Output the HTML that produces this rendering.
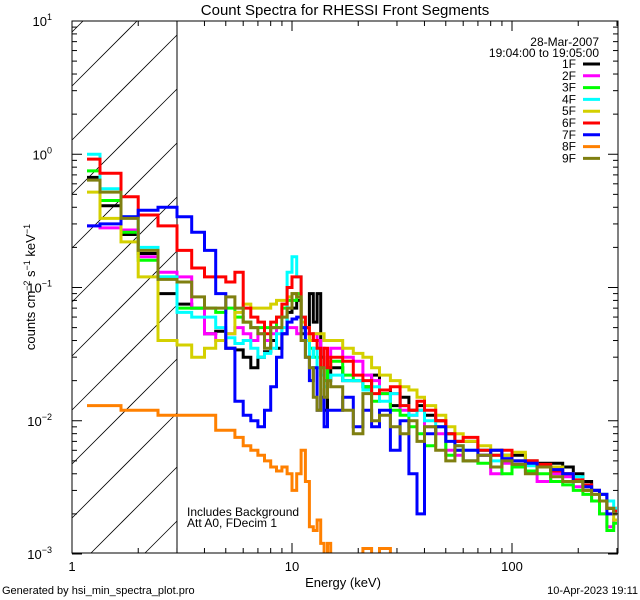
<!DOCTYPE html>
<html><head><meta charset="utf-8"><style>
html,body{margin:0;padding:0;background:#fff;width:640px;height:600px;overflow:hidden;}
svg{display:block;font-family:"Liberation Sans",sans-serif;}
</style></head><body>
<svg id="chart" width="640" height="600" viewBox="0 0 640 600" xmlns="http://www.w3.org/2000/svg">
<defs><clipPath id="plotclip"><rect x="72" y="21" width="546" height="532"/></clipPath></defs>
<rect width="640" height="600" fill="#fff"/>
<text x="345" y="15" font-size="15" text-anchor="middle">Count Spectra for RHESSI Front Segments</text>
<g id="hatch"></g>
<line x1="177" y1="21" x2="177" y2="553" stroke="#000" stroke-width="1"/>
<g id="series" clip-path="url(#plotclip)"></g>
<rect x="72" y="21" width="546" height="532" fill="none" stroke="#000" stroke-width="1"/>
<g id="axes"></g>
<text x="343" y="587" font-size="13" text-anchor="middle">Energy (keV)</text>
<text transform="translate(35,287) rotate(-90)" font-size="13" text-anchor="middle">counts cm<tspan dy="-5" font-size="9">−2</tspan><tspan dy="5"> s</tspan><tspan dy="-5" font-size="9">−1</tspan><tspan dy="5"> keV</tspan><tspan dy="-5" font-size="9">−1</tspan></text>
<text x="187" y="516" font-size="12">Includes Background</text>
<text x="187" y="527" font-size="12">Att A0, FDecim 1</text>
<text x="599" y="46" font-size="12" text-anchor="end">28-Mar-2007</text>
<text x="599" y="57" font-size="12" text-anchor="end">19:04:00 to 19:05:00</text>
<g id="legend"></g>
<text x="2" y="594" font-size="11">Generated by hsi_min_spectra_plot.pro</text>
<text x="638" y="594" font-size="11" text-anchor="end">10-Apr-2023 19:11</text>
</svg>
<script>
const edges=[1.17,1.34,1.67,2.0,2.46,3.0,3.5,4,4.5,5,5.5,6,6.5,7,7.5,8,8.5,9,9.5,10,10.5,11,11.5,12,12.5,13,13.5,14,14.5,15,17,19,21,23,25,28,31,34,37,40,45,50,55,60,70,80,90,100,115,130,150,170,190,210,230,250,270,290,300];
const labels=["1F","2F","3F","4F","5F","6F","7F","8F","9F"];
const colors=["#000000","#ff00ff","#00ff00","#00ffff","#d4d000","#ff0000","#0000ff","#ff8000","#7f7f10"];
const s1F=[0.67,0.41,0.25,0.18,0.09, 0.075,0.07,0.045,0.047,0.035,0.034,0.03,0.025,0.03,0.033,0.04,0.035,0.045,0.065,0.07,0.08,0.045,0.05,0.09,0.055,0.09,0.03,0.012,0.02, 0.025,0.02,0.02,0.018,0.022,0.017,0.013,0.015,0.012,0.013,0.011,0.01,0.008,0.007,0.007,0.006,0.006,0.0055,0.0055,0.005,0.0048,0.0048,0.0045,0.004,0.0035,0.003,0.0028,0.0022,0.0022];
const s2F=[0.29,0.28,0.27,0.17,0.13, 0.12,0.07,0.045,0.04,0.045,0.05,0.045,0.04,0.045,0.04,0.045,0.05,0.045,0.05,0.05,0.045,0.05,0.045,0.04,0.045,0.04,0.035,0.025,0.03, 0.035,0.03,0.028,0.022,0.02,0.016,0.016,0.012,0.011,0.012,0.009,0.008,0.006,0.0055,0.005,0.0055,0.004,0.0048,0.0045,0.005,0.0035,0.004,0.0038,0.0032,0.003,0.0025,0.002,0.0016,0.0018];
const s3F=[0.75,0.45,0.26,0.16,0.12, 0.07,0.07,0.07,0.065,0.07,0.06,0.055,0.05,0.05,0.05,0.05,0.06,0.07,0.08,0.08,0.09,0.05,0.04,0.035,0.03,0.03,0.025,0.02,0.025, 0.028,0.022,0.02,0.018,0.014,0.016,0.012,0.011,0.009,0.008,0.0065,0.009,0.0055,0.006,0.005,0.0048,0.0055,0.004,0.0045,0.0042,0.004,0.0035,0.0033,0.003,0.0028,0.0025,0.002,0.0015,0.0017];
const s4F=[1.0,0.55,0.34,0.2,0.12, 0.065,0.06,0.06,0.05,0.042,0.038,0.04,0.035,0.03,0.032,0.035,0.045,0.05,0.13,0.17,0.12,0.06,0.04,0.03,0.035,0.025,0.022,0.018,0.02, 0.022,0.02,0.02,0.017,0.018,0.014,0.016,0.013,0.011,0.012,0.01,0.009,0.008,0.0065,0.006,0.006,0.005,0.0055,0.005,0.0046,0.0045,0.0045,0.004,0.0038,0.0033,0.003,0.0028,0.0025,0.0022];
const s5F=[0.52,0.33,0.22,0.12,0.04, 0.037,0.03,0.035,0.04,0.045,0.065,0.075,0.07,0.07,0.07,0.075,0.08,0.08,0.085,0.09,0.085,0.055,0.05,0.04,0.045,0.045,0.045,0.04,0.04, 0.04,0.035,0.032,0.03,0.025,0.022,0.02,0.018,0.017,0.015,0.013,0.011,0.009,0.008,0.007,0.0065,0.006,0.0055,0.0058,0.005,0.0045,0.0045,0.004,0.0035,0.003,0.0028,0.0025,0.002,0.0018];
const s6F=[0.92,0.72,0.48,0.35,0.29, 0.19,0.14,0.12,0.12,0.11,0.13,0.07,0.06,0.055,0.045,0.055,0.06,0.075,0.1,0.12,0.12,0.06,0.05,0.045,0.04,0.035,0.025,0.035,0.025, 0.03,0.028,0.022,0.02,0.016,0.017,0.018,0.013,0.012,0.014,0.012,0.01,0.008,0.007,0.0075,0.006,0.0055,0.006,0.005,0.005,0.0047,0.0042,0.004,0.0036,0.0033,0.003,0.0025,0.0022,0.0021];
const s7F=[0.29,0.3,0.34,0.38,0.4, 0.34,0.26,0.19,0.09,0.035,0.014,0.011,0.01,0.009,0.012,0.018,0.03,0.045,0.055,0.058,0.06,0.05,0.03,0.02,0.025,0.012,0.015,0.009,0.012, 0.012,0.015,0.009,0.012,0.009,0.012,0.006,0.01,0.004,0.002,0.008,0.009,0.007,0.006,0.006,0.0055,0.006,0.0052,0.005,0.0048,0.0045,0.0043,0.004,0.0035,0.0032,0.003,0.0028,0.002,0.002];
const s8F=[0.013,0.013,0.012,0.012,0.011, 0.011,0.011,0.011,0.0085,0.0085,0.0075,0.0065,0.006,0.0055,0.005,0.0045,0.0042,0.0045,0.004,0.003,0.004,0.006,0.0035,0.0016,0.0015,0.0018,0.0012,0.0009,0.0012, 0.0009,0.0005,0.0008,0.0011,0.0005,0.0011,0.0005,0.0009,0.0005,0.0005,0.0005,0.0005,0.0005,0.0005,0.0005,0.0005,0.0005,0.0005,0.0005,0.0005,0.0005,0.0005,0.0005,0.0005,0.0005,0.0005,0.0005,0.0005,0.0005];
const s9F=[0.64,0.52,0.33,0.19,0.115, 0.11,0.085,0.07,0.07,0.085,0.07,0.055,0.05,0.045,0.035,0.05,0.05,0.06,0.07,0.09,0.085,0.04,0.03,0.025,0.015,0.012,0.025,0.015,0.02, 0.018,0.012,0.008,0.016,0.01,0.011,0.009,0.008,0.01,0.007,0.009,0.006,0.005,0.0065,0.005,0.0055,0.0045,0.005,0.0047,0.004,0.0045,0.0038,0.0035,0.0035,0.003,0.0028,0.0025,0.0022,0.002];
const allSeries=[s1F,s2F,s3F,s4F,s5F,s6F,s7F,s8F,s9F];
const xTickLabels=["1","10","100"];
const yTickExps=["1","0","−1","−2","−3"];

const NS="http://www.w3.org/2000/svg";
const X0=72,XD=220,Y0=21,YD=133.25,YB=553;
function xs(e){return X0+Math.log10(e)*XD;}
function ys(v){return Y0+(1-Math.log10(v))*YD;}
function mk(tag,attrs,parent){const el=document.createElementNS(NS,tag);for(const k in attrs)el.setAttribute(k,attrs[k]);parent.appendChild(el);return el;}

// hatch lines y = c - (x-72), clipped to x in [72,177], y in [21,553]
const hatch=document.getElementById('hatch');
for(let k=-2;k<14;k++){const c=86+54*k;
 let xa=72,xb=177;
 xa=Math.max(xa,72+(c-553));
 xb=Math.min(xb,72+(c-21));
 if(xb<=xa)continue;
 const ln=mk('line',{x1:xa,y1:c-(xa-72),x2:xb,y2:c-(xb-72),stroke:'#000','stroke-width':0.8},hatch);
 
 }

const sg=document.getElementById('series');
[0,1,2,3,4,5,6,7,8].forEach(i=>{const vals=allSeries[i];let d='';
 for(let b=0;b<vals.length;b++){const x1=xs(edges[b]),x2=xs(edges[b+1]),y=Math.min(ys(vals[b]),YB+3);
  d+=(b===0?'M':'L')+x1.toFixed(1)+' '+y.toFixed(1)+' L'+x2.toFixed(1)+' '+y.toFixed(1)+' ';}
 const p=mk('path',{d:d,fill:'none',stroke:colors[i],'stroke-width':3,'stroke-linejoin':'miter'},sg);
 
 
});

const ax=document.getElementById('axes');
for(let dec=0;dec<3;dec++){for(let m=1;m<10;m++){const e=m*Math.pow(10,dec);if(e>300)break;const x=xs(e);const L=m===1?10:5;
 const t1=mk('line',{x1:x,y1:553,x2:x,y2:553-L,stroke:'#000'},ax);
 
 
 const t2=mk('line',{x1:x,y1:21,x2:x,y2:21+L,stroke:'#000'},ax);
 
 }}
xTickLabels.forEach((s,i)=>{const t=mk('text',{x:xs(Math.pow(10,i)),y:571,'font-size':13,'text-anchor':'middle'},ax);t.textContent=s;
 
 });
for(let dec=-3;dec<1;dec++){for(let m=1;m<10;m++){const v=m*Math.pow(10,dec);const y=ys(v);const L=m===1?10:5;
 const t1=mk('line',{x1:72,y1:y,x2:72+L,y2:y,stroke:'#000'},ax);
 
 
 const t2=mk('line',{x1:618,y1:y,x2:618-L,y2:y,stroke:'#000'},ax);
 
 }}
yTickExps.forEach((s,i)=>{const y=ys(Math.pow(10,1-i));
 const t=mk('text',{x:52,y:y+5,'font-size':13,'text-anchor':'end'},ax);
 
 
 t.textContent='10';
 const sp=mk('tspan',{dy:-6,'font-size':9},t);sp.textContent=s;});

const lg=document.getElementById('legend');
labels.forEach((s,i)=>{const y=64+i*11.8;
 const t=mk('text',{x:576,y:y+4,'font-size':12,'text-anchor':'end'},lg);t.textContent=s;
 
 
 const l=mk('line',{x1:583,y1:y,x2:600,y2:y,stroke:colors[i],'stroke-width':3},lg);
 
 });
</script>
</body></html>
